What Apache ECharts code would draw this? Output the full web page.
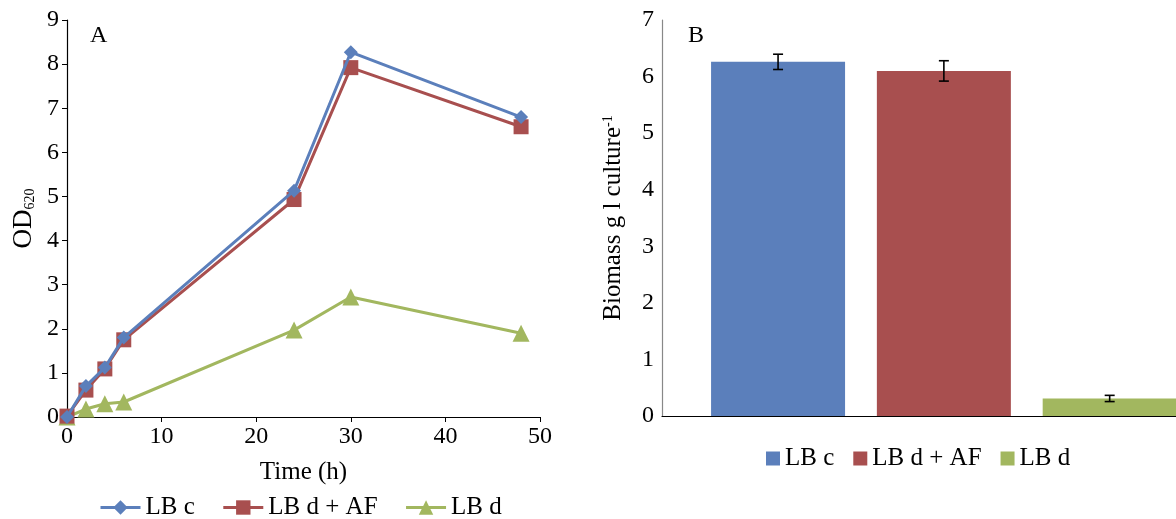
<!DOCTYPE html>
<html>
<head>
<meta charset="utf-8">
<script src="https://cdn.jsdelivr.net/npm/echarts@6/dist/echarts.min.js"></script>
<style>html,body{margin:0;padding:0;background:#fff}#c{width:1176px;height:519px}</style>
</head>
<body>
<div id="c"></div>
<script>
// ---- Data ----
const seriesNames = ['LB c', 'LB d + AF', 'LB d'];
const timeHours = [0, 2, 4, 6, 24, 30, 48];
const odLBc    = [0.00, 0.70, 1.12, 1.80, 5.13, 8.27, 6.80];
const odLBdAF  = [0.02, 0.61, 1.09, 1.75, 4.93, 7.92, 6.58];
const odLBd    = [0.00, 0.18, 0.30, 0.34, 1.97, 2.72, 1.90];
const biomass      = [6.26, 6.10, 0.31];
const biomassError = [0.135, 0.18, 0.055];
const xTicksA = [0, 10, 20, 30, 40, 50];
const yTicksA = [0, 1, 2, 3, 4, 5, 6, 7, 8, 9];
const yTicksB = [0, 1, 2, 3, 4, 5, 6, 7];

const colors = ['#5b7fbb', '#a84f4f', '#a2b75f'];
const symbols = ['diamond', 'rect', 'triangle'];
const symbolSizes = [14, 15, 17];
const FONT = '"Liberation Serif", "Times New Roman", serif';

const odSeries = [odLBc, odLBdAF, odLBd];

const lineSeries = odSeries.map((vals, i) => ({
  type: 'line',
  name: seriesNames[i],
  xAxisIndex: 0, yAxisIndex: 0,
  data: timeHours.map((t, j) => [t, vals[j]]),
  symbol: symbols[i],
  symbolSize: symbolSizes[i],
  showAllSymbol: true,
  lineStyle: { color: colors[i], width: 3 },
  itemStyle: { color: colors[i] },
  color: colors[i],
  z: 3 - i + 2,
  animation: false
}));

const barSeries = biomass.map((v, i) => ({
  type: 'bar',
  name: seriesNames[i],
  xAxisIndex: 1, yAxisIndex: 1,
  data: [[i, v]],
  barWidth: 134,
  barGap: '-100%',
  itemStyle: { color: colors[i] },
  color: colors[i],
  animation: false
}));

const errorSeries = {
  type: 'custom',
  xAxisIndex: 1, yAxisIndex: 1,
  data: biomass.map((v, i) => [i, v, biomassError[i]]),
  renderItem: function (params, api) {
    const x = api.value(0), y = api.value(1), e = api.value(2);
    const hi = api.coord([x, y + e]);
    const lo = api.coord([x, y - e]);
    const hw = 5;
    const st = { stroke: '#000', lineWidth: 1.6 };
    return {
      type: 'group',
      children: [
        { type: 'line', shape: { x1: hi[0], y1: hi[1], x2: lo[0], y2: lo[1] }, style: st },
        { type: 'line', shape: { x1: hi[0] - hw, y1: hi[1], x2: hi[0] + hw, y2: hi[1] }, style: st },
        { type: 'line', shape: { x1: lo[0] - hw, y1: lo[1], x2: lo[0] + hw, y2: lo[1] }, style: st }
      ]
    };
  },
  z: 10,
  silent: true,
  animation: false
};

const tickText = { fontFamily: FONT, fontSize: 24, color: '#000' };
const nameText = { fontFamily: FONT, fontSize: 25, color: '#000' };
const legendText = { fontFamily: FONT, fontSize: 25, color: '#000' };

const option = {
  backgroundColor: '#fff',
  animation: false,
  textStyle: { fontFamily: FONT },
  title: [
    { text: 'A', left: 85, top: 19, textStyle: { fontFamily: FONT, fontSize: 24, fontWeight: 'normal', color: '#000' } },
    { text: 'B', left: 683, top: 19, textStyle: { fontFamily: FONT, fontSize: 24, fontWeight: 'normal', color: '#000' } }
  ],
  legend: [
    {
      data: seriesNames.map(n => ({ name: n })),
      left: 94, top: 490,
      itemWidth: 40, itemHeight: 18, itemGap: 27,
      lineStyle: { width: 3 },
      textStyle: legendText,
      selectedMode: false
    },
    {
      data: seriesNames.map(n => ({ name: n, icon: 'rect' })),
      left: 761, top: 441,
      itemWidth: 14, itemHeight: 14, itemGap: 19,
      textStyle: legendText,
      selectedMode: false
    }
  ],
  grid: [
    { left: 67, top: 20, width: 473, height: 397 },
    { left: 662, top: 20, right: 0, height: 396 }
  ],
  xAxis: [
    {
      gridIndex: 0, type: 'value', min: xTicksA[0], max: xTicksA[xTicksA.length - 1], interval: 10,
      name: 'Time (h)', nameLocation: 'middle', nameGap: 43,
      nameTextStyle: nameText,
      axisLine: { lineStyle: { color: '#000', width: 1.2 } },
      axisTick: { show: true, length: 5, lineStyle: { color: '#000' } },
      axisLabel: Object.assign({ margin: 8 }, tickText),
      splitLine: { show: false }
    },
    {
      gridIndex: 1, type: 'value', min: -0.7, max: 2.4,
      axisLine: { show: true, onZero: false, lineStyle: { color: '#000', width: 1.2 } },
      axisTick: { show: false },
      axisLabel: { show: false },
      splitLine: { show: false }
    }
  ],
  yAxis: [
    {
      gridIndex: 0, type: 'value', min: yTicksA[0], max: yTicksA[yTicksA.length - 1], interval: 1,
      name: 'OD{sub|620}', nameLocation: 'middle', nameGap: 30,
      nameTextStyle: Object.assign({
        fontSize: 27,
        rich: { sub: { fontFamily: FONT, fontSize: 14, color: '#000', verticalAlign: 'bottom', lineHeight: 24 } }
      }, { fontFamily: FONT, color: '#000' }),
      axisLine: { show: true, lineStyle: { color: '#000', width: 1.2 } },
      axisTick: { show: true, length: 5, lineStyle: { color: '#000' } },
      axisLabel: Object.assign({ margin: 8 }, tickText),
      splitLine: { show: false }
    },
    {
      gridIndex: 1, type: 'value', min: yTicksB[0], max: yTicksB[yTicksB.length - 1], interval: 1,
      name: 'Biomass g l culture{sup|-1}', nameLocation: 'middle', nameGap: 36,
      nameTextStyle: Object.assign({
        rich: { sup: { fontFamily: FONT, fontSize: 14, color: '#000', verticalAlign: 'top', lineHeight: 24 } }
      }, nameText),
      axisLine: { show: true, onZero: false, lineStyle: { color: '#888', width: 1.2 } },
      axisTick: { show: false },
      axisLabel: Object.assign({ margin: 8 }, tickText),
      splitLine: { show: false }
    }
  ],
  series: lineSeries.concat(barSeries, [errorSeries])
};

const chart = echarts.init(document.getElementById('c'), null, { renderer: 'canvas' });
chart.setOption(option);
</script>
</body>
</html>
